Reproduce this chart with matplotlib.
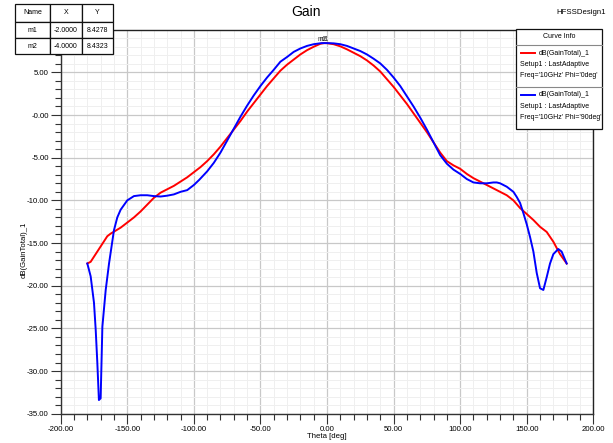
import matplotlib
matplotlib.use("Agg")
import matplotlib.pyplot as plt
from matplotlib.patches import Rectangle
from matplotlib.lines import Line2D
import numpy as np

# ---------------- data ----------------
theta_phi0 = [-180, -177.5, -175, -170, -165, -162.5, -155, -150, -145, -140, -135, -130,
              -125, -120, -115, -110, -105, -100, -95, -90, -85, -80, -75, -70, -65, -60,
              -55, -50, -45, -40, -35, -30, -25, -20, -15, -10, -5, -2, 0, 5, 10, 15, 20,
              25, 30, 35, 40, 45, 50, 55, 60, 65, 70, 75, 80, 85, 90, 95, 100, 105, 110,
              115, 120, 125, 130, 135, 140, 145, 150, 155, 160, 165, 170, 175, 180]
gain_phi0 = [-17.4, -17.2, -16.6, -15.4, -14.2, -13.9, -13.2, -12.6, -12.0, -11.3, -10.5, -9.7,
             -9.1, -8.7, -8.3, -7.8, -7.3, -6.7, -6.1, -5.4, -4.6, -3.7, -2.7, -1.7, -0.7, 0.4,
             1.4, 2.4, 3.4, 4.3, 5.2, 5.9, 6.5, 7.1, 7.6, 8.0, 8.35, 8.43, 8.42, 8.3, 8.05, 7.7, 7.3,
             6.9, 6.4, 5.8, 5.1, 4.2, 3.3, 2.3, 1.3, 0.2, -0.9, -2.0, -3.2, -4.4, -5.4, -5.9, -6.3, -6.9, -7.4,
             -7.8, -8.2, -8.6, -9.0, -9.4, -10.0, -10.9, -11.6, -12.3, -13.1, -13.7, -14.85, -16.3, -17.4]

theta_phi90 = [-180, -177.5, -175, -173.7, -172.5, -171.3, -170, -168.7, -166.2, -163.7, -160,
               -157.5, -155, -150, -145, -140, -135, -130, -125, -120, -115, -110, -105, -100,
               -96, -90, -85, -80, -75, -70, -65, -60, -55, -50, -45, -40, -35, -30, -25, -20,
               -15, -10, -4, 0, 5, 10, 15, 20, 25, 30, 35, 40, 45, 50, 55, 60, 65, 70, 75, 80,
               85, 90, 95, 100, 105, 110, 115, 120, 125, 127.5, 130, 135, 140, 142.5, 145, 147.5,
               150, 152.5, 155, 157.5, 160, 162.5, 165, 167.5, 170, 173.7, 176.2, 180]
gain_phi90 = [-17.4, -18.9, -22.0, -25.2, -29.0, -33.4, -33.2, -24.8, -20.5, -17.4, -13.5,
              -12.0, -11.1, -10.0, -9.5, -9.4, -9.4, -9.5, -9.55, -9.45, -9.3, -9.0, -8.8, -8.2,
              -7.6, -6.6, -5.6, -4.4, -3.0, -1.6, -0.2, 1.1, 2.3, 3.4, 4.4, 5.3, 6.25, 6.8, 7.4, 7.8,
              8.1, 8.3, 8.43, 8.43, 8.4, 8.3, 8.1, 7.8, 7.5, 7.1, 6.6, 6.05, 5.3, 4.4, 3.4, 2.2, 1.0, -0.3, -1.7, -3.2,
              -4.7, -5.7, -6.4, -6.9, -7.5, -7.9, -8.0, -8.0, -7.9, -7.9, -8.0, -8.4, -9.0, -9.6, -10.3, -11.5,
              -12.8, -14.3, -16.0, -18.5, -20.3, -20.5, -19.0, -17.4, -16.3, -15.7, -16.0, -17.4]

marker_names = ["m1", "m2"]
marker_x = [-2.0, -4.0]
marker_y = [8.4278, 8.4323]

xticks = [-200, -150, -100, -50, 0, 50, 100, 150, 200]
xtick_labels = ["-200.00", "-150.00", "-100.00", "-50.00", "0.00", "50.00", "100.00", "150.00", "200.00"]
yticks = [5, 0, -5, -10, -15, -20, -25, -30, -35]
ytick_labels = ["5.00", "-0.00", "-5.00", "-10.00", "-15.00", "-20.00", "-25.00", "-30.00", "-35.00"]

# ---------------- figure ----------------
W, H = 613, 443
FONT = ["Liberation Sans", "DejaVu Sans"]
plt.rcParams["font.family"] = FONT
FS = 5.6

fig = plt.figure(figsize=(W / 100, H / 100), dpi=100)
fig.patch.set_facecolor("white")

def fx(px):
    return px / W

def fy(py):
    return 1 - py / H

L, R, T, B = 60.7, 593.3, 29.7, 413.7
ax = fig.add_axes([fx(L), fy(B), (R - L) / W, (B - T) / H])
ax.set_xlim(-200, 200)
ax.set_ylim(-35, 10)

ax.set_xticks(xticks)
ax.set_xticklabels(xtick_labels, fontsize=FS)
ax.set_yticks(yticks)
ax.set_yticklabels(ytick_labels, fontsize=FS)
ax.set_xticks(np.arange(-200, 201, 10), minor=True)
ax.set_yticks(np.arange(-35, 11, 1), minor=True)
ax.tick_params(which="major", direction="out", length=7, width=0.8, color="#333333", pad=1.5)
ax.tick_params(which="minor", direction="out", length=4, width=0.8, color="#333333")
ax.grid(which="major", color="#c8c8c8", linewidth=0.9)
ax.grid(which="minor", color="#efefef", linewidth=0.7)
ax.set_axisbelow(True)
for side in ["left", "bottom"]:
    ax.spines[side].set_color("#333333")
    ax.spines[side].set_linewidth(1.0)
for side in ["top", "right"]:
    ax.spines[side].set_color("#222222")
    ax.spines[side].set_linewidth(1.0)

ax.plot(theta_phi0, gain_phi0, color="#ff0000", linewidth=1.4, zorder=3)
ax.plot(theta_phi90, gain_phi90, color="#0000ff", linewidth=1.4, zorder=3)

# markers (overlapping labels, as in the reference)
ax.text(marker_x[1], marker_y[1] + 0.05, marker_names[1], fontsize=4.8, ha="center", va="bottom",
        color="#333333", zorder=4)
ax.text(marker_x[0], marker_y[0] + 0.05, marker_names[0], fontsize=4.8, ha="center", va="bottom",
        color="#333333", zorder=4)

# axis labels
fig.text(fx(327), fy(437), "Theta [deg]", fontsize=FS, ha="center", va="center")
fig.text(fx(24), fy(250), "dB(GainTotal)_1", rotation=90, fontsize=FS, ha="center", va="center")

# titles
fig.text(fx(306), fy(12), "Gain", fontsize=10, ha="center", va="center")
fig.text(fx(581), fy(12), "HFSSDesign1", fontsize=FS, ha="center", va="center")

# marker table
cols = [15, 50, 81.7, 112.7]
rows = [4, 21.7, 38.3, 54.3]
for i in range(3):
    for j in range(3):
        fig.patches.append(Rectangle((fx(cols[j]), fy(rows[i + 1])), (cols[j + 1] - cols[j]) / W,
                                     (rows[i + 1] - rows[i]) / H, transform=fig.transFigure,
                                     facecolor="white", edgecolor="#111111", linewidth=0.9, zorder=5))
table = [["Name", "X", "Y"]] + [[marker_names[k], "%.4f" % marker_x[k], "%.4f" % marker_y[k]] for k in range(2)]
for i in range(3):
    for j in range(3):
        fig.text(fx((cols[j] + cols[j + 1]) / 2), fy((rows[i] + rows[i + 1]) / 2), table[i][j],
                 fontsize=5.0, ha="center", va="center", zorder=6)

# legend box (Curve Info)
lx0, lx1, ly0, ly1 = 516, 601.7, 29.3, 129.3
fig.patches.append(Rectangle((fx(lx0), fy(ly1)), (lx1 - lx0) / W, (ly1 - ly0) / H,
                             transform=fig.transFigure, facecolor="white", edgecolor="#111111",
                             linewidth=0.9, zorder=5))
for yy in [45, 86.7]:
    fig.lines.append(Line2D([fx(lx0), fx(lx1)], [fy(yy), fy(yy)], transform=fig.transFigure,
                            color="#888888", linewidth=0.8, zorder=6))
fig.text(fx((lx0 + lx1) / 2), fy(37), "Curve Info", fontsize=5.0, ha="center", va="center", zorder=6)
entries = [("#ff0000", "Freq='10GHz' Phi='0deg'", 53.3), ("#0000ff", "Freq='10GHz' Phi='90deg'", 95)]
for col, freq, y0 in entries:
    fig.lines.append(Line2D([fx(521), fx(535)], [fy(y0), fy(y0)], transform=fig.transFigure,
                            color=col, linewidth=1.4, zorder=6))
    fig.text(fx(539), fy(y0), "dB(GainTotal)_1", fontsize=5.0, ha="left", va="center", zorder=6)
    fig.text(fx(520), fy(y0 + 11.7), "Setup1 : LastAdaptive", fontsize=5.0, ha="left", va="center", zorder=6)
    fig.text(fx(520), fy(y0 + 22), freq, fontsize=5.0, ha="left", va="center", zorder=6)

fig.savefig("out.png", dpi=100)
